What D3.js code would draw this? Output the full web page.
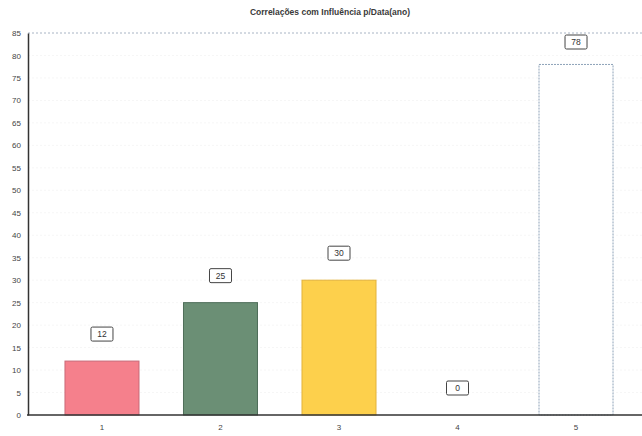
<!DOCTYPE html>
<html><head><meta charset="utf-8">
<script src="https://cdn.jsdelivr.net/npm/d3@7/dist/d3.min.js"></script>
<style>body{margin:0;background:#fff}svg{display:block}</style>
</head><body><svg id="c" width="642" height="436"></svg>
<script>
const title = "Correlações com Influência p/Data(ano)";
const categories = ["1","2","3","4","5"];
const values = [12, 25, 30, 0, 78];
const fills = ["#f5808c","#6b8f75","#fdd04c","#ffffff","#ffffff"];
const strokes = ["#c86a78","#4f6e5a","#e2b23c","#8ea2b8","#8ea2b8"];
const yTicks = d3.range(0, 86, 5);

const svg = d3.select("#c");
const x = d3.scaleBand().domain(categories).range([28, 650]).paddingInner(0.3755).paddingOuter(0.312);
const y = d3.scaleLinear().domain([0, 85]).range([415, 33]);

svg.append("text").attr("x", 330).attr("y", 15).attr("text-anchor", "middle")
  .attr("font-family", "Liberation Sans, Arial, sans-serif").attr("font-size", 8.5).attr("font-weight", "bold")
  .attr("fill", "#3a3a3a").text(title);

// gridlines
svg.append("g").selectAll("line").data(yTicks.filter(d => d > 0)).join("line")
  .attr("x1", 28).attr("x2", 642).attr("y1", d => y(d)).attr("y2", d => y(d))
  .attr("stroke", d => d === 85 ? "#a8b4c4" : "#f6f6f6").attr("stroke-dasharray", "2,2").attr("stroke-width", 1);

// bars
svg.append("g").selectAll("rect").data(values).join("rect")
  .attr("x", (d, i) => x(categories[i])).attr("width", x.bandwidth())
  .attr("y", d => y(d)).attr("height", d => y(0) - y(d))
  .attr("fill", (d, i) => fills[i]).attr("stroke", (d, i) => strokes[i])
  .attr("stroke-width", 1).attr("stroke-dasharray", (d, i) => i === 4 ? "2,1" : null);

// value labels
const lab = svg.append("g").selectAll("g").data(values).join("g")
  .attr("transform", (d, i) => `translate(${x(categories[i]) + x.bandwidth() / 2},${Math.max(y(d) - 27, 42)})`);
lab.append("rect").attr("x", -11).attr("y", -7).attr("width", 22).attr("height", 14).attr("rx", 1.5)
  .attr("fill", "#fff").attr("stroke", "#444").attr("stroke-width", 1);
lab.append("text").attr("text-anchor", "middle").attr("dy", "0.35em")
  .attr("font-family", "Liberation Sans, Arial, sans-serif").attr("font-size", 8.5).attr("fill", "#333")
  .text(d => d);

// axes
const yAxis = d3.axisLeft(y).tickValues(yTicks).tickSize(0).tickPadding(7);
const gy = svg.append("g").attr("transform", "translate(28,0)").call(yAxis);
gy.select(".domain").attr("stroke", "#333").attr("stroke-width", 1.5);
gy.selectAll("text").attr("font-family", "Liberation Sans, Arial, sans-serif").attr("font-size", 8).attr("fill", "#444");

const xAxis = d3.axisBottom(x).tickSize(0).tickPadding(9);
const gx = svg.append("g").attr("transform", "translate(0,415)").call(xAxis);
gx.select(".domain").remove();
gx.selectAll("text").attr("font-family", "Liberation Sans, Arial, sans-serif").attr("font-size", 8).attr("fill", "#444");
svg.append("line").attr("x1", 27).attr("x2", 642).attr("y1", 415).attr("y2", 415)
  .attr("stroke", "#333").attr("stroke-width", 1.5);
</script></body></html>
